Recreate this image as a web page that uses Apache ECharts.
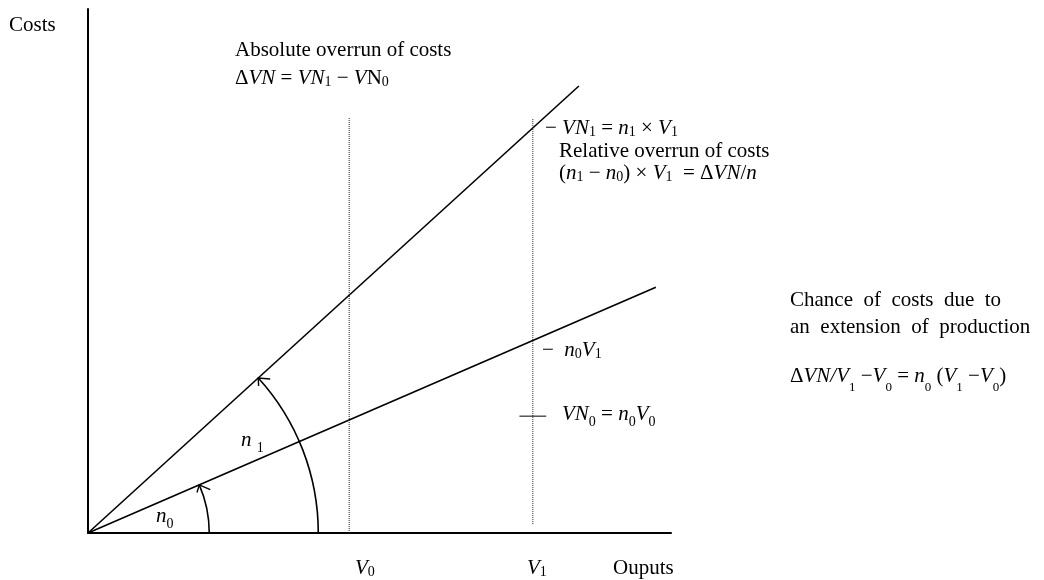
<!DOCTYPE html>
<html lang="en">
<head>
    <meta charset="UTF-8">
    <script src="https://cdn.jsdelivr.net/npm/echarts@6/dist/echarts.min.js"></script>
    <title>Costs and outputs</title>
</head>
<style>
    body { margin: 0; background: #fff; }
</style>
<body>
    <div id="main" style="width: 1044px;height:580px;"></div>
</body>
<script>
    // values in chart units: x 0..100 (outputs), y 0..100 (costs)
    let steepLine = [[0, 0], [84.2, 85.3]];     // n1
    let shallowLine = [[0, 0], [97.4, 46.9]];   // n0
    let v0Line = [[44.8, 0], [44.8, 79.2]];
    let v1Line = [[76.3, 1.7], [76.3, 79.2]];
    let vn0Tick = [[74.0, 22.3], [78.6, 22.3]];
    // angle arcs: [radius in x units, end x, end y of the line they stop on]
    let arcs = [[39.5, 84.2, 85.3], [20.8, 97.4, 46.9]];

    const FONT = '"Liberation Serif", "Times New Roman", serif';
    const SIZE = 21;
    // subscripts: s shallow, d deeper, e deepest
    function sub(size, pad) {
        return { fontFamily: FONT, fontSize: size, fill: '#000', lineHeight: 1, verticalAlign: 'top', padding: [pad, 0, 0, 0] };
    }
    let rich = {
        i: { fontFamily: FONT, fontSize: SIZE, fontStyle: 'italic', fill: '#000' },
        s: sub(14, 9),
        d: sub(14, 13),
        e: sub(13, 17)
    };

    function txt(x, y, text) {
        return {
            type: 'text',
            x: x, y: y,
            silent: true,
            style: {
                text: text,
                fill: '#000',
                font: SIZE + 'px ' + FONT,
                lineHeight: 24,
                verticalAlign: 'middle',
                align: 'left',
                rich: rich
            }
        };
    }

    let texts = [
        txt(9, 25, 'Costs'),
        txt(235, 50, 'Absolute overrun of costs'),
        txt(235, 78, 'Δ{i|VN} = {i|VN}{s|1} − {i|V}N{s|0}'),
        txt(545, 128, '− {i|VN}{s|1} = {i|n}{s|1} × {i|V}{s|1}'),
        txt(559, 151, 'Relative overrun of costs'),
        txt(559, 173, '({i|n}{s|1} − {i|n}{s|0}) × {i|V}{s|1}  = Δ{i|VN}/{i|n}'),
        txt(542, 350, '−  {i|n}{s|0}{i|V}{s|1}'),
        txt(562, 414, '{i|VN}{d|0} = {i|n}{d|0}{i|V}{d|0}'),
        txt(790, 300, 'Chance  of  costs  due  to'),
        txt(790, 327, 'an  extension  of  production'),
        txt(790, 376, 'Δ{i|VN/V}{e|1} −{i|V}{e|0} = {i|n}{e|0} ({i|V}{e|1} −{i|V}{e|0})'),
        txt(241, 440, '{i|n} {d|1}'),
        txt(156, 516, '{i|n}{d|0}'),
        txt(355, 568, '{i|V}{s|0}'),
        txt(527, 568, '{i|V}{s|1}'),
        txt(613, 568, 'Ouputs')
    ];

    let myChart = echarts.init(document.getElementById('main'));

    function lineSeries(data, type, width) {
        return {
            type: 'line',
            data: data,
            showSymbol: false,
            silent: true,
            lineStyle: { color: type === 'solid' ? '#000' : '#222', width: width, type: type }
        };
    }

    let option = {
        animation: false,
        grid: { left: 88, right: 373, top: 9, bottom: 47 },
        xAxis: {
            type: 'value', min: 0, max: 100,
            axisLine: { show: true, lineStyle: { color: '#000', width: 2 } },
            axisTick: { show: false }, axisLabel: { show: false }, splitLine: { show: false }
        },
        yAxis: {
            type: 'value', min: 0, max: 100,
            axisLine: { show: true, lineStyle: { color: '#000', width: 2 } },
            axisTick: { show: false }, axisLabel: { show: false }, splitLine: { show: false }
        },
        graphic: texts,
        series: [
            lineSeries(steepLine, 'solid', 1.6),
            lineSeries(shallowLine, 'solid', 1.6),
            lineSeries(v0Line, 'dotted', 1),
            lineSeries(v1Line, 'dotted', 1),
            lineSeries(vn0Tick, 'solid', 1),
            {
                type: 'custom',
                silent: true,
                data: arcs,
                renderItem: function (params, api) {
                    let c = api.coord([0, 0]);
                    let edge = api.coord([api.value(0), 0]);
                    let end = api.coord([api.value(1), api.value(2)]);
                    let r = edge[0] - c[0];
                    let th = Math.atan2(c[1] - end[1], end[0] - c[0]);
                    let tip = [c[0] + r * Math.cos(th), c[1] - r * Math.sin(th)];
                    // travel direction at the tip (counter-clockwise), screen coords
                    let dir = [-Math.sin(th), -Math.cos(th)];
                    let back = Math.atan2(-dir[1], -dir[0]);
                    let b1 = [tip[0] + 8 * Math.cos(back + 0.7), tip[1] + 8 * Math.sin(back + 0.7)];
                    let b2 = [tip[0] + 12 * Math.cos(back - 0.75), tip[1] + 12 * Math.sin(back - 0.75)];
                    return {
                        type: 'group',
                        children: [
                            {
                                type: 'arc',
                                shape: { cx: c[0], cy: c[1], r: r, startAngle: -th, endAngle: 0, clockwise: true },
                                style: { stroke: '#000', lineWidth: 1.6, fill: null }
                            },
                            {
                                type: 'polyline',
                                shape: { points: [b1, tip, b2] },
                                style: { stroke: '#000', lineWidth: 1.4, fill: null }
                            }
                        ]
                    };
                }
            }
        ]
    };

    myChart.setOption(option);
</script>
</html>
